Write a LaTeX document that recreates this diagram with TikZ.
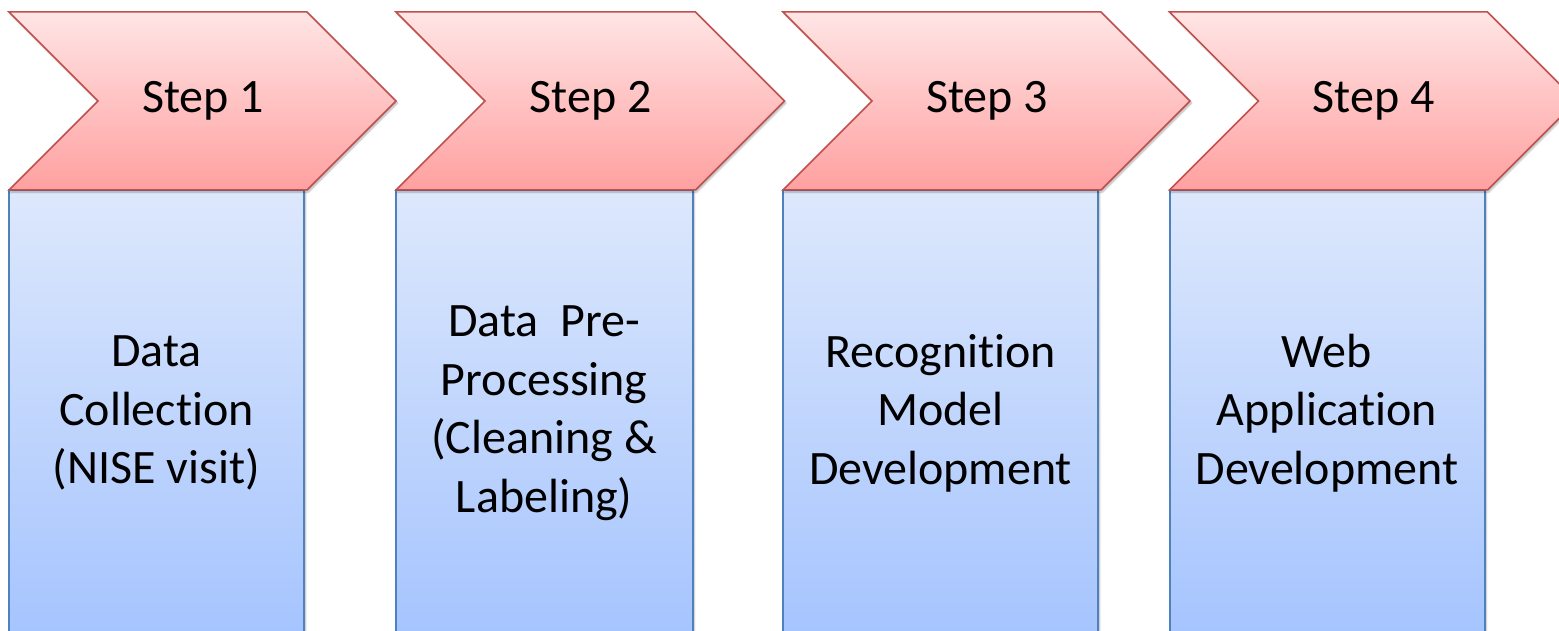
\documentclass[tikz,border=0pt]{standalone}
\usepackage{fontspec}
\setmainfont{Carlito}[Ligatures=NoCommon]
\usetikzlibrary{shadows.blur}
\definecolor{chevtop}{RGB}{255,229,229}
\definecolor{chevbot}{RGB}{255,160,160}
\definecolor{chevline}{RGB}{192,80,77}
\definecolor{boxtop}{RGB}{221,232,252}
\definecolor{boxbot}{RGB}{164,195,254}
\definecolor{boxline}{RGB}{79,129,189}
\begin{document}
\begin{tikzpicture}[x=1pt,y=-1pt,
  chev/.style={draw=chevline, line width=1.5pt, top color=chevtop, bottom color=chevbot, line join=miter,
    blur shadow={shadow xshift=1.5pt, shadow yshift=-2pt, shadow blur steps=6, shadow opacity=30}},
  stepbox/.style={draw=boxline, line width=2pt, top color=boxtop, bottom color=boxbot,
    blur shadow={shadow xshift=1.5pt, shadow yshift=-2pt, shadow blur steps=6, shadow opacity=30}},
  steplabel/.style={font=\fontsize{48}{58}\selectfont, text=black, inner sep=0pt},
  desc/.style={font=\fontsize{48}{58.5}\selectfont, align=center, text=black, inner sep=0pt}]
\useasboundingbox (0,0) rectangle (1559,631);
\foreach \i/\x/\w/\t in {
  1/9/298/{Data\\Collection\\(NISE visit)},
  2/396/299.5/{Data~~Pre-\\Processing\\(Cleaning \&\\Labeling)},
  3/783/318/{Recognition\\Model\\Development},
  4/1169.5/318/{Web\\Application\\Development}}{
  \path[stepbox] (\x,190) rectangle ({\x+\w-3},645);
  \path[chev] (\x,12) -- ({\x+\w},12) -- ({\x+\w+89},101) -- ({\x+\w},190) -- (\x,190) -- ({\x+89},101) -- cycle;
  \node[steplabel] (s\i) at ({\x+(\w+89)/2+0.5},101) {Step \i};
  \node[desc] (d\i) at ({\x+(\w-3)/2},413) {\t};
}
\end{tikzpicture}
\end{document}
